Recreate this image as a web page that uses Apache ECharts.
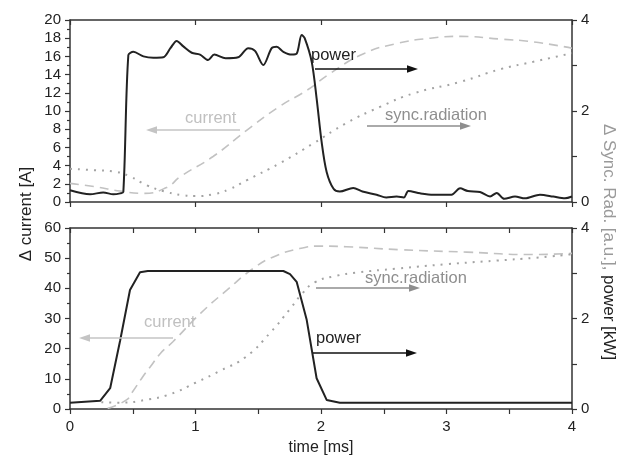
<!DOCTYPE html>
<html>
<head>
<meta charset="utf-8">
<script src="https://cdn.jsdelivr.net/npm/echarts@6/dist/echarts.min.js"></script>
<style>
  html, body { margin: 0; padding: 0; background: #fff; }
  #main { width: 622px; height: 459px; }
</style>
</head>
<body>
<div id="main"></div>
<script>
// upper panel: [time ms, value]
var topPower = [[0,0.26],[0.16,0.17],[0.265,0.21],[0.345,0.17],[0.40,0.19],[0.425,0.22],[0.465,3.23],[0.505,3.3],[0.585,3.2],[0.664,3.17],[0.743,3.18],[0.80,3.38],[0.85,3.54],[0.903,3.42],[0.97,3.28],[1.036,3.24],[1.10,3.12],[1.15,3.24],[1.24,3.16],[1.34,3.18],[1.42,3.38],[1.474,3.32],[1.54,3.01],[1.607,3.38],[1.647,3.41],[1.70,3.3],[1.766,3.24],[1.806,3.26],[1.846,3.67],[1.87,3.6],[1.926,3.08],[1.965,2.28],[2.005,1.32],[2.045,0.66],[2.10,0.29],[2.15,0.23],[2.257,0.31],[2.33,0.23],[2.443,0.16],[2.52,0.1],[2.603,0.12],[2.66,0.1],[2.696,0.24],[2.79,0.19],[2.895,0.16],[3.04,0.16],[3.108,0.3],[3.17,0.24],[3.267,0.22],[3.347,0.12],[3.40,0.2],[3.46,0.07],[3.546,0.12],[3.625,0.08],[3.745,0.16],[3.85,0.12],[3.944,0.08],[4.0,0.12]];
var topCurrent = [[0,2.05],[0.19,1.7],[0.4,1.2],[0.58,0.95],[0.77,1.6],[0.88,2.8],[1.14,5.0],[1.41,7.9],[1.67,10.5],[1.89,12.3],[2.07,14.1],[2.34,16.3],[2.6,17.4],[2.87,18.0],[3.11,18.2],[3.43,17.9],[3.69,17.6],[4.0,16.9]];
var topSync = [[0,0.73],[0.19,0.70],[0.35,0.67],[0.48,0.56],[0.61,0.37],[0.77,0.22],[0.9,0.15],[1.0,0.13],[1.14,0.17],[1.27,0.28],[1.41,0.48],[1.67,0.85],[1.94,1.29],[2.2,1.73],[2.47,2.09],[2.74,2.39],[3.11,2.64],[3.43,2.92],[3.69,3.08],[4.0,3.27]];

// lower panel
var botPower = [[0,0.14],[0.24,0.18],[0.32,0.46],[0.40,1.52],[0.478,2.63],[0.558,3.02],[0.62,3.05],[1.70,3.05],[1.753,2.98],[1.806,2.81],[1.886,1.97],[1.965,0.68],[2.045,0.2],[2.15,0.14],[4.0,0.14]];
var botCurrent = [[0.3,0.2],[0.45,3.0],[0.5,5.8],[0.58,10.7],[0.64,14],[0.72,18.4],[0.82,22.3],[1.04,31.7],[1.25,39.4],[1.46,46.6],[1.62,50.4],[1.83,53.2],[2.0,54.0],[2.2,53.8],[2.63,52.8],[3.16,52],[3.69,51.2],[4.0,51.6]];
var botSync = [[0.25,0.15],[0.4,0.14],[0.6,0.2],[0.8,0.33],[1.0,0.58],[1.2,0.85],[1.4,1.15],[1.6,1.7],[1.75,2.2],[1.85,2.55],[1.95,2.8],[2.1,2.93],[2.3,3.02],[2.6,3.1],[3.0,3.2],[3.4,3.28],[3.7,3.34],[4.0,3.42]];

var xTicks = [0, 1, 2, 3, 4];

var FONT = 'Liberation Sans, Arial, sans-serif';
var AX = '#333';
var POWER_C = '#222';
var CURR_C = '#c2c2c2';
var SYNC_C = '#a3a3a3';

var myChart = echarts.init(document.getElementById('main'));

function xAx(grid, pos, showLabel, minor) {
    return {
        type: 'value', gridIndex: grid, position: pos,
        min: xTicks[0], max: xTicks[xTicks.length - 1], interval: 1,
        axisLine: { onZero: false, lineStyle: { color: AX, width: 1.5 } },
        axisTick: { inside: pos === 'top', length: 5, lineStyle: { color: AX, width: 1.2 } },
        minorTick: { show: minor, splitNumber: 2, length: 5, lineStyle: { color: AX, width: 1.2 } },
        axisLabel: { show: showLabel, color: '#222', fontSize: 15, fontFamily: FONT, margin: 10 },
        splitLine: { show: false },
        name: showLabel ? 'time [ms]' : '',
        nameLocation: 'middle', nameGap: 31,
        nameTextStyle: { color: '#222', fontSize: 16, fontFamily: FONT }
    };
}

function yAx(grid, pos, max, interval) {
    return {
        type: 'value', gridIndex: grid, position: pos,
        min: 0, max: max, interval: interval,
        axisLine: { show: true, onZero: false, lineStyle: { color: AX, width: 1.5 } },
        axisTick: { show: true, length: 5, lineStyle: { color: AX, width: 1.2 } },
        minorTick: { show: true, splitNumber: 2, length: pos === 'right' ? 5 : 3, lineStyle: { color: AX, width: 1.2 } },
        axisLabel: { color: '#222', fontSize: 15, fontFamily: FONT, margin: 9 },
        splitLine: { show: false }
    };
}

function line(name, data, xi, yi, color, type, width, smooth, z) {
    return {
        name: name, type: 'line', data: data,
        xAxisIndex: xi, yAxisIndex: yi,
        showSymbol: false, smooth: smooth, z: z,
        lineStyle: { color: color, type: type, width: width },
        animation: false
    };
}

function arrow(x1, x2, y, color, head) {
    var dir = x2 > x1 ? 1 : -1;
    return [
        { type: 'line', shape: { x1: x1, y1: y, x2: x2 - dir * head, y2: y },
          style: { stroke: color, lineWidth: 1.6 }, z: 10 },
        { type: 'polygon', shape: { points: [[x2, y], [x2 - dir * head, y - head * 0.35], [x2 - dir * head, y + head * 0.35]] },
          style: { fill: color }, z: 10 }
    ];
}

function label(text, x, y, color) {
    return { type: 'text', x: x, y: y, z: 10,
        style: { text: text, fill: color, font: '16.5px ' + FONT, textAlign: 'left', textVerticalAlign: 'middle' } };
}

var graphics = [].concat(
    label('current', 185, 118, '#c0c0c0'), arrow(240, 146, 130, '#c4c4c4', 11),
    label('power', 311, 55, '#222'), arrow(315, 418, 69, '#111', 11),
    label('sync.radiation', 385, 115, '#8e8e8e'), arrow(367, 471, 126, '#8e8e8e', 11),
    label('current', 144, 322, '#c0c0c0'), arrow(173, 79, 338, '#c4c4c4', 11),
    label('sync.radiation', 365, 278, '#8e8e8e'), arrow(316, 420, 288, '#8e8e8e', 11),
    label('power', 316, 338, '#222'), arrow(313, 417, 353, '#111', 11),
    [{
        type: 'text', x: 26, y: 214, rotation: Math.PI / 2,
        style: { text: 'Δ current [A]', fill: '#222', font: '17px ' + FONT, textAlign: 'center', textVerticalAlign: 'middle' }
    }, {
        type: 'text', x: 609, y: 242, rotation: -Math.PI / 2,
        style: {
            text: '{a|Δ Sync. Rad. [a.u.],} {b|power [kW]}',
            font: '17px ' + FONT, textAlign: 'center', textVerticalAlign: 'middle',
            rich: {
                a: { fill: '#9a9a9a', color: '#9a9a9a', fontSize: 17, fontFamily: FONT },
                b: { fill: '#222', color: '#222', fontSize: 17, fontFamily: FONT }
            }
        }
    }]
);

var option = {
    backgroundColor: '#fff',
    animation: false,
    grid: [
        { left: 70, right: 50, top: 20, height: 182 },
        { left: 70, right: 50, top: 228, height: 181 }
    ],
    xAxis: [
        xAx(0, 'bottom', false, false),
        xAx(0, 'top', false, false),
        xAx(1, 'bottom', true, true),
        xAx(1, 'top', false, true)
    ],
    yAxis: [
        yAx(0, 'left', 20, 2),
        yAx(0, 'right', 4, 2),
        yAx(1, 'left', 60, 10),
        yAx(1, 'right', 4, 2)
    ],
    series: [
        line('current', topCurrent, 0, 0, CURR_C, [9, 6], 1.6, true, 2),
        line('sync.radiation', topSync, 0, 1, SYNC_C, [2, 6], 2, true, 2),
        line('power', topPower, 0, 1, POWER_C, 'solid', 2, 0.3, 3),
        line('current', botCurrent, 2, 2, CURR_C, [9, 6], 1.6, true, 2),
        line('sync.radiation', botSync, 2, 3, SYNC_C, [2, 6], 2, true, 2),
        line('power', botPower, 2, 3, POWER_C, 'solid', 2, false, 3)
    ],
    graphic: graphics
};

myChart.setOption(option);
</script>
</body>
</html>
